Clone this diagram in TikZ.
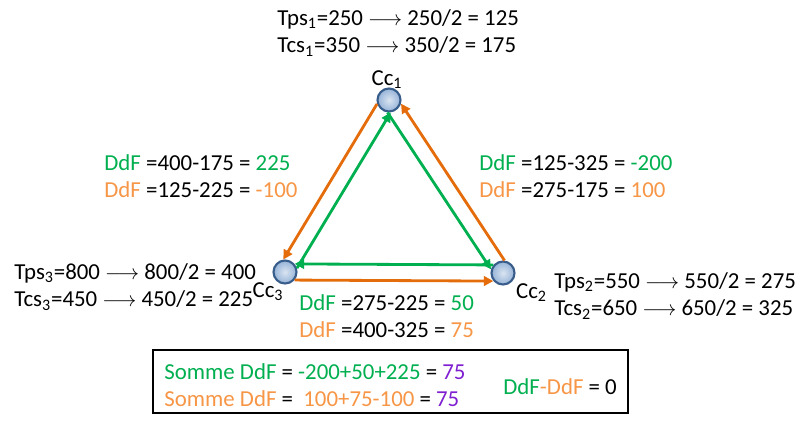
\documentclass[tikz,border=0pt]{standalone}
\usepackage{fontspec}
\setmainfont{Carlito}
\usetikzlibrary{arrows.meta, positioning}
\definecolor{cgreen}{HTML}{00B050}
\definecolor{corange}{HTML}{E46C0A}
\definecolor{clight}{HTML}{F79646}
\definecolor{cpurple}{HTML}{7F1FD0}
\definecolor{cnode}{HTML}{95B3D7}
\definecolor{cedge}{HTML}{385D8A}
\newcommand{\ddg}[1]{\textcolor{cgreen}{#1}}
\newcommand{\ddo}[1]{\textcolor{clight}{#1}}
\newcommand{\ddp}[1]{\textcolor{cpurple}{#1}}
\tikzset{
  every picture/.style={line width=1.6pt},
  cc/.style={circle, draw=cedge, line width=1.2pt, inner color=cnode!35, outer color=cnode, minimum size=0.46cm, inner sep=0pt},
  txt/.style={font=\fontsize{13}{15.5}\selectfont, align=left, inner sep=0pt, anchor=west},
  tag/.style={font=\fontsize{13}{15.5}\selectfont, inner sep=0pt},
  garrow/.style={-{Triangle[length=1.9mm, width=1.9mm]}, draw=cgreen},
  oarrow/.style={-{Triangle[length=1.9mm, width=1.9mm]}, draw=corange},
}

\begin{document}
\begin{tikzpicture}
  \useasboundingbox[fill=white] (0,0) rectangle (15.94,8.4);
  % ---------- the three nodes ----------
  \node[cc] (c1) at (7.78, 6.40) {};
  \node[cc] (c2) at (10.06, 2.94) {};
  \node[cc] (c3) at (5.70, 2.96) {};
  \node[tag] (l1) at (7.74, 6.80) {Cc\textsubscript{1}};
  \node[tag] (l2) at (10.63, 2.54) {Cc\textsubscript{2}};
  \node[tag] (l3) at (5.36, 2.56) {Cc\textsubscript{3}};
  % ---------- arrows ----------
  \draw[oarrow] (c1.198.8) -- (c3.98.8);
  \draw[oarrow] (c3.320) -- (c2.220);
  \draw[oarrow] (c2.83.4) -- (c1.343.4);
  \draw[garrow] (c3.18.8) -- (c1.278.8);
  \draw[garrow] (c1.263.4) -- (c2.163.4);
  \draw[garrow] (c2.140) -- (c3.40);
  % ---------- values at the nodes ----------
  \node[txt] (t1) at (5.52, 7.74) {Tps\textsubscript{1}=250 $\longrightarrow$ 250/2 = 125\\Tcs\textsubscript{1}=350 $\longrightarrow$ 350/2 = 175};
  \node[txt] (t2) at (11.06, 2.48) {Tps\textsubscript{2}=550 $\longrightarrow$ 550/2 = 275\\Tcs\textsubscript{2}=650 $\longrightarrow$ 650/2 = 325};
  \node[txt] (t3) at (0.26, 2.66) {Tps\textsubscript{3}=800 $\longrightarrow$ 800/2 = 400\\Tcs\textsubscript{3}=450 $\longrightarrow$ 450/2 = 225};
  % ---------- DdF per side ----------
  \node[txt] (d13) at (2.06, 4.87) {\ddg{DdF} =400-175 = \ddg{225}\\\ddo{DdF} =125-225 = \ddo{-100}};
  \node[txt] (d12) at (9.56, 4.87) {\ddg{DdF} =125-325 = \ddg{-200}\\\ddo{DdF} =275-175 = \ddo{100}};
  \node[txt] (d23) at (5.96, 2.08) {\ddg{DdF} =275-225 = \ddg{50}\\\ddo{DdF} =400-325 = \ddo{75}};
  % ---------- sum ----------
  \node[draw, line width=0.8pt, minimum width=9.5cm, minimum height=1.26cm] (sumbox) at (7.81, 0.77) {};
  \node[txt] (s1) at (3.26, 0.70) {\ddg{Somme DdF} = \ddg{-200+50+225} = \ddp{75}\\\ddo{Somme DdF} =~ \ddo{100+75-100} = \ddp{75}};
  \node[txt] (s2) at (10.04, 0.66) {\ddg{DdF}\ddo{-DdF} = 0};
\end{tikzpicture}
\end{document}
